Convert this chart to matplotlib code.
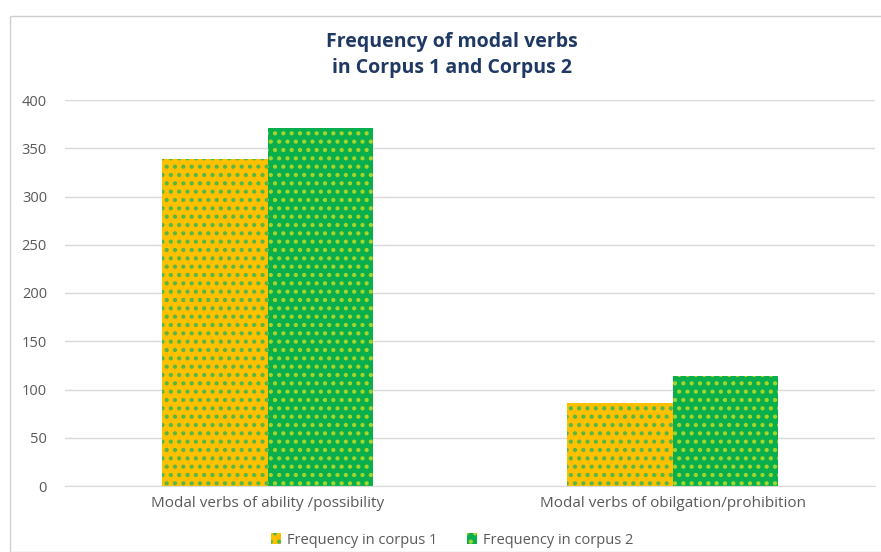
import matplotlib.pyplot as plt
import matplotlib.patches as mpatches
import numpy as np

# données
categories = ["Modal verbs of ability /possibility", "Modal verbs of obilgation/prohibition"]
corpus1 = [339, 86]
corpus2 = [371, 114]
series_names = ["Frequency in corpus 1", "Frequency in corpus 2"]

yellow, yellow_dot = "#FFC000", "#52B848"
green, green_dot = "#0AAF4D", "#A6D62A"

plt.rcParams['font.family'] = ['Open Sans', 'DejaVu Sans']
plt.rcParams['hatch.linewidth'] = 1.8

fig = plt.figure(figsize=(8.81, 5.52), dpi=100)
# cadre du graphique
fig.patches.append(mpatches.Rectangle((10/881, 0), 1, 1 - 16/552, transform=fig.transFigure,
                                      facecolor='none', edgecolor='#D0D0D0', lw=1))
ax = fig.add_axes([65/881, 1 - 486/552, 810/881, (486 - 100)/552])

x = np.arange(len(categories))
w = 0.26
for vals, off, fc, hc in [(corpus1, -w/2, yellow, yellow_dot), (corpus2, w/2, green, green_dot)]:
    ax.bar(x + off, vals, w, color=fc, edgecolor='none', zorder=2)
    ax.bar(x + off, vals, w, facecolor='none', edgecolor=hc, linewidth=0, hatch='..', zorder=3)

ax.set_xlim(-0.5, 1.5)
ax.set_ylim(0, 400)
ax.set_yticks(range(0, 401, 50))
ax.set_xticks(x)
ax.set_xticklabels(categories, fontsize=11)
ax.grid(axis='y', color='#D9D9D9', lw=1, zorder=0)
for s in ['top', 'right', 'left']:
    ax.spines[s].set_visible(False)
ax.spines['bottom'].set_color('#D9D9D9')
ax.tick_params(length=0, colors='#595959')
ax.tick_params(axis='y', pad=13, labelsize=10.5)
ax.tick_params(axis='x', pad=7)

fig.text(0.513, 1 - 55/552, "Frequency of modal verbs\nin Corpus 1 and Corpus 2",
         ha='center', va='center', fontsize=14, fontweight='bold', color='#1F3864',
         linespacing=1.4)

handles = [mpatches.Patch(facecolor=yellow, edgecolor=yellow_dot, hatch='..', lw=0),
           mpatches.Patch(facecolor=green, edgecolor=green_dot, hatch='..', lw=0)]
leg = fig.legend(handles, series_names, loc='center', bbox_to_anchor=(0.513, 1 - 540/552),
                 ncol=2, frameon=False, fontsize=10.5, handlelength=0.7, handleheight=0.7,
                 columnspacing=2.0, handletextpad=0.4)
for t in leg.get_texts():
    t.set_color('#595959')

fig.savefig("out.png", dpi=100)
